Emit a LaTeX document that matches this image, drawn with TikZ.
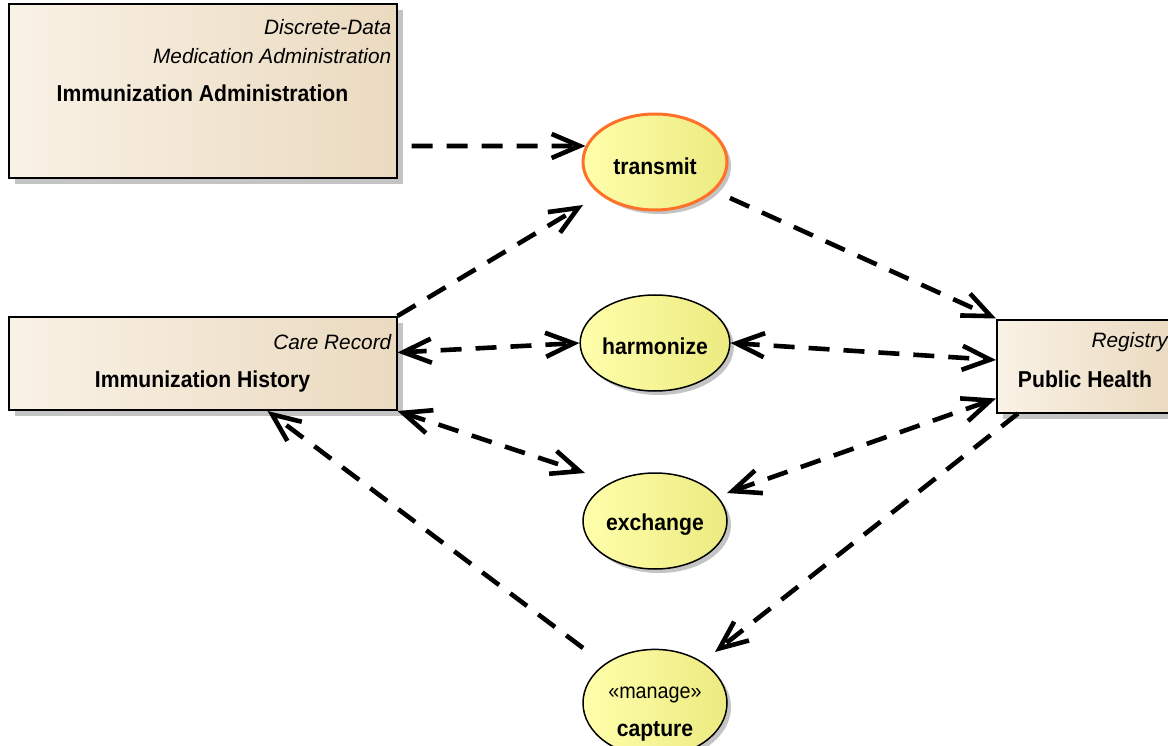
\documentclass[tikz,border=0pt]{standalone}
\usepackage{fontspec}
\setmainfont{Liberation Sans}
\newfontfamily\narrowsans[FakeStretch=0.92]{Liberation Sans}
\usetikzlibrary{
	arrows.meta,
	shapes.geometric,
	shadows
}
\definecolor{boxleft}{RGB}{250,242,230}
\definecolor{boxright}{RGB}{234,218,192}
\definecolor{ucleft}{RGB}{255,255,172}
\definecolor{ucright}{RGB}{236,234,128}
\definecolor{ucorange}{RGB}{255,112,40}
\definecolor{shadowgrey}{RGB}{196,196,196}

\begin{document}
\begin{tikzpicture}[
    x=1pt, y=-1pt,
    box/.style = { draw,line width=2pt,left color=boxleft,right color=boxright,minimum width=388pt,
                   drop shadow={shadow xshift=6pt,shadow yshift=-6pt,fill=shadowgrey,opacity=1} },
    usecase/.style = { ellipse,draw,line width=1.5pt,minimum width=144pt,minimum height=96pt,inner sep=0pt,
                   left color=ucleft,right color=ucright,align=center,
                   font=\fontsize{23}{26}\narrowsans\bfseries,
                   drop shadow={shadow xshift=4pt,shadow yshift=-4pt,fill=shadowgrey,opacity=1} },
    stereo/.style = { font=\fontsize{20.8}{24}\selectfont\itshape,inner sep=0pt },
    classname/.style = { font=\fontsize{23}{26}\narrowsans\bfseries,inner sep=0pt },
    arrowstyle/.style = { line width=4.6pt,dash pattern=on 21pt off 14pt,
                          -{Straight Barb[length=28pt,width=24pt]} },
    biarrow/.style = { arrowstyle,{Straight Barb[length=28pt,width=24pt]}-{Straight Barb[length=28pt,width=24pt]} }
    ]
    \useasboundingbox (0,0) rectangle (1168,746);
    % Definitions
    \coordinate (adm)  at (202.5, 91  );
    \coordinate (hist) at (202.5, 363.5);
    \coordinate (reg)  at (1085 , 366 );
    \coordinate (tra)  at (655  , 162 );
    \coordinate (har)  at (655  , 343 );
    \coordinate (exc)  at (655  , 521 );
    \coordinate (cap)  at (655  , 703 );
    % Nodes
    \node(IA) at (adm)  [box,minimum height=174pt] {};
    \node(CR) at (hist) [box,minimum height=93pt]  {};
    \node(PH) at (reg)  [box,minimum width=176pt,minimum height=93pt] {};
    \node(TR) at (tra)  [usecase,draw=ucorange,line width=3pt] {\rule{0pt}{25pt}transmit};
    \node(HA) at (har)  [usecase] {\rule{0pt}{23pt}harmonize};
    \node(EX) at (exc)  [usecase] {\rule{0pt}{24pt}exchange};
    \node(CA) at (cap)  [usecase] {\rule{0pt}{33pt}{\fontsize{21.5}{24}\narrowsans\mdseries «manage»}\\[12pt]capture};
    % Texts
    \node(IAst) at ([xshift=-6pt,yshift=-32pt]IA.north east) [stereo,anchor=base east] {Discrete-Data};
    \node(IAsu) at ([xshift=-6pt,yshift=-61pt]IA.north east) [stereo,anchor=base east] {Medication Administration};
    \node(IAnm) at ([yshift=-99pt]IA.north)                  [classname,anchor=base]  {Immunization Administration};
    \node(CRst) at ([xshift=-6pt,yshift=-33pt]CR.north east) [stereo,anchor=base east] {Care Record};
    \node(CRnm) at ([yshift=-71pt]CR.north)                  [classname,anchor=base]  {Immunization History};
    \node(PHst) at ([xshift=-6pt,yshift=-29pt]PH.north east) [stereo,anchor=base east] {Registry};
    \node(PHnm) at ([yshift=-69pt]PH.north)                  [classname,anchor=base]  {Public Health};
    % Arrows
    \draw[arrowstyle] ([xshift=14pt,yshift=-55pt]IA.east)   -- (TR.167);
    \draw[arrowstyle] (CR.north east)                       -- ([shift={(-72pt,-43pt)}]TR.center);
    \draw[arrowstyle] ([shift={(75pt,-36pt)}]TR.center)     -- (PH.north west);
    \draw[biarrow]    ([yshift=11pt]CR.east)                -- (HA.west);
    \draw[biarrow]    (HA.east)                             -- ([yshift=6pt]PH.west);
    \draw[biarrow]    (CR.south east)                       -- ([shift={(-70pt,48pt)}]EX.center);
    \draw[biarrow]    ([shift={(72pt,28pt)}]EX.center)      -- ([yshift=15pt]PH.south west);
    \draw[arrowstyle] ([xshift=22pt]PH.south west)          -- ([shift={(60pt,51pt)}]CA.center);
    \draw[arrowstyle] ([shift={(-72pt,55pt)}]CA.center)     -- ([xshift=65pt]CR.south);
\end{tikzpicture}
\end{document}
